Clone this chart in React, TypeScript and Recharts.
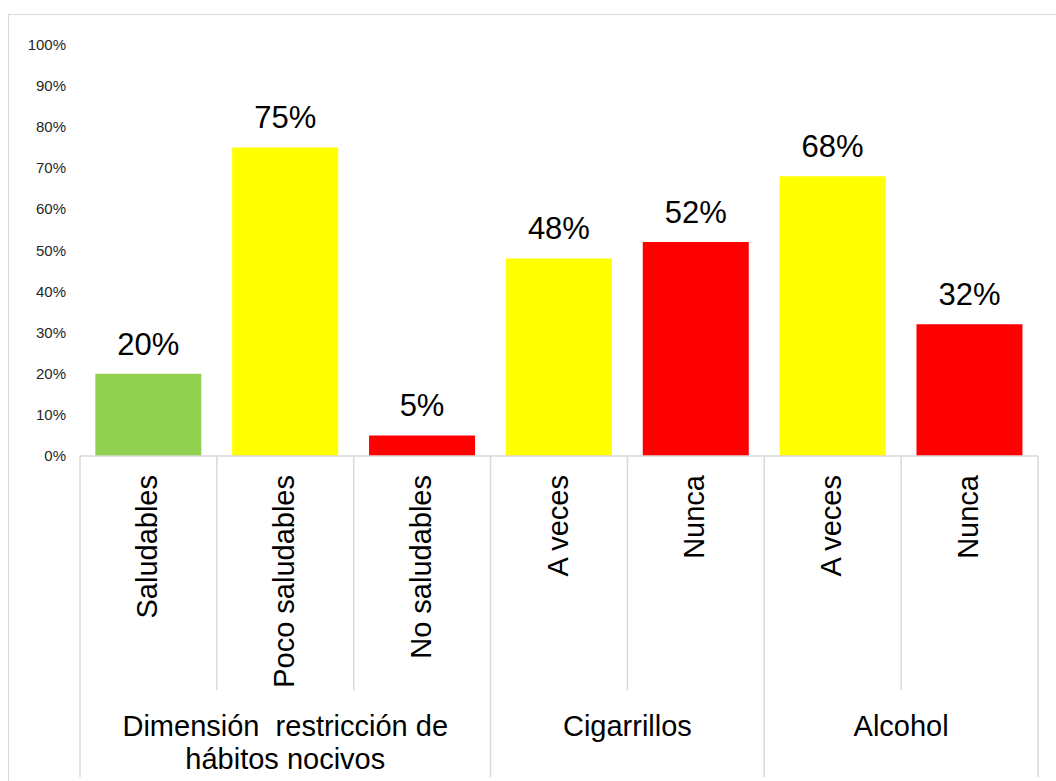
import React from "react";
import { BarChart, Bar, XAxis, YAxis, Cell, LabelList } from "recharts";

const categories = ["Saludables", "Poco saludables", "No saludables", "A veces", "Nunca", "A veces", "Nunca"];
const values = [20, 75, 5, 48, 52, 68, 32];
const barColors = ["#92D050", "#FFFF00", "#FF0000", "#FFFF00", "#FF0000", "#FFFF00", "#FF0000"];
const groupLabels = [["Dimensión  restricción de", "hábitos nocivos"], ["Cigarrillos"], ["Alcohol"]];
const groupStarts = [0, 3, 5];
const groupSizes = [3, 2, 2];
const yTicks = [0, 10, 20, 30, 40, 50, 60, 70, 80, 90, 100];

const data = categories.map((c, i) => ({ key: String(i), name: c, value: values[i] }));

const FONT = '"Liberation Sans", Arial, sans-serif';
const GRID = "#d9d9d9";

const CategoryTick = (props: any) => {
  const { x, y, payload, index } = props;
  const half = payload && typeof payload.offset === "number" && payload.offset > 0 ? payload.offset : 68.43;
  const band = half * 2;
  const i = typeof index === "number" ? index : Number(payload.value);
  const left = x - half;
  const gi = groupStarts.indexOf(i);
  const isGroupStart = gi >= 0;
  const isLast = i === categories.length - 1;
  return (
    <g>
      <line x1={left} y1={y} x2={left} y2={y + (isGroupStart ? 321 : 234)} stroke={GRID} strokeWidth={1.5} />
      {isLast && (
        <line x1={left + band} y1={y} x2={left + band} y2={y + 321} stroke={GRID} strokeWidth={1.5} />
      )}
      <text
        x={x + 8.5}
        y={y + 19}
        transform={`rotate(-90, ${x + 8.5}, ${y + 19})`}
        textAnchor="end"
        fontSize={29}
        fontFamily={FONT}
        fill="#000"
      >
        {categories[i]}
      </text>
      {isGroupStart && (
        <text
          x={left + (groupSizes[gi] * band) / 2}
          y={y + 280}
          textAnchor="middle"
          fontSize={29}
          fontFamily={FONT}
          fill="#000"
          style={{ whiteSpace: "pre" }}
        >
          {groupLabels[gi].map((line, k) => (
            <tspan key={k} x={left + (groupSizes[gi] * band) / 2} dy={k === 0 ? 0 : 33}>
              {line}
            </tspan>
          ))}
        </text>
      )}
    </g>
  );
};

export default function App() {
  return (
    <div
      style={{
        position: "fixed",
        left: 0,
        top: 0,
        width: 1056,
        height: 781,
        overflow: "hidden",
        background: "#fff",
      }}
    >
      <div
        style={{
          position: "absolute",
          left: 8,
          top: 14,
          width: 1100,
          height: 820,
          border: `1px solid ${GRID}`,
          boxSizing: "border-box",
        }}
      />
      <div style={{ position: "absolute", left: 0, top: 0 }}>
        <BarChart
          width={1056}
          height={781}
          data={data}
          margin={{ top: 44.5, right: 18, left: 0, bottom: 0 }}
          barCategoryGap="11.2%"
        >
          <XAxis
            dataKey="key"
            height={325}
            interval={0}
            tickLine={false}
            tickSize={0}
            tickMargin={0}
            axisLine={{ stroke: GRID, strokeWidth: 1.5 }}
            tick={<CategoryTick />}
          />
          <YAxis
            width={80}
            domain={[0, 100]}
            ticks={yTicks}
            interval={0}
            axisLine={false}
            tickLine={false}
            tickSize={0}
            tickMargin={14}
            tickFormatter={(v: number) => `${v}%`}
            tick={{ fontSize: 15, fontFamily: FONT, fill: "#262626" }}
          />
          <Bar dataKey="value" isAnimationActive={false}>
            {data.map((d, i) => (
              <Cell key={d.key} fill={barColors[i]} />
            ))}
            <LabelList
              dataKey="value"
              position="top"
              offset={19}
              formatter={(v: any) => `${v}%`}
              style={{ fontSize: 31, fontFamily: FONT, fill: "#000" }}
            />
          </Bar>
        </BarChart>
      </div>
    </div>
  );
}
